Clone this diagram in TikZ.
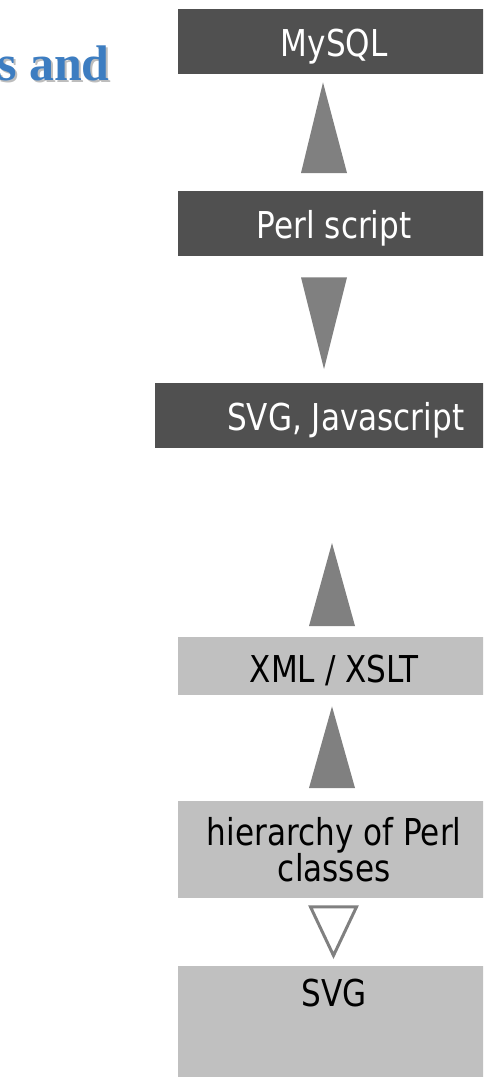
\documentclass[tikz,border=0pt]{standalone}
\usepackage{fontspec}
\setmainfont[FakeStretch=0.84]{DejaVu Sans}
\newfontfamily\headfont{Liberation Serif}
\usetikzlibrary{calc}
\definecolor{Slate}{HTML}{505050}
\definecolor{Silver}{HTML}{C0C0C0}
\definecolor{Ash}{HTML}{808080}
\definecolor{Ocean}{HTML}{3D7DC1}
\definecolor{Shade}{HTML}{BDBDBD}
\begin{document}
\begin{tikzpicture}[x=1pt,y=-1pt,
basebox/.style={anchor=north west,inner sep=0pt,minimum width=312pt,align=center,font=\fontsize{37}{35}\selectfont},
darkbox/.style={basebox,fill=Slate,text=white,text height=47pt,text depth=18pt},
lightbox/.style={basebox,fill=Silver,text=black},
wedge/.style={fill=Ash},
hollowwedge/.style={draw=Ash,line width=3pt,fill=white}]
\useasboundingbox (0,0) rectangle (483,1077);
\clip (0,0) rectangle (483,1077);
\node[anchor=base west,inner sep=0pt,text=Shade,font=\headfont\bfseries\fontsize{50}{60}\selectfont](headshadow) at (-1,82){s and};
\node[anchor=base west,inner sep=0pt,text=Ocean,font=\headfont\bfseries\fontsize{50}{60}\selectfont](head) at (-3,80){s and};
\node[darkbox](mysql) at (178,9){MySQL};
\node[darkbox](perl) at (178,191){Perl script};
\node[darkbox,minimum width=381pt](web) at (155,383){SVG, Javascript};
\node[lightbox,text height=45pt,text depth=13pt](xml) at (178,637){XML / XSLT};
\node[lightbox,minimum height=97pt](classes) at (178,801){hierarchy of Perl\\classes};
\node[lightbox,text height=40pt,text depth=80pt](svg) at (178,966){SVG};
\fill[wedge] ($(mysql.south west)+(145,8)$) -- ($(perl.north west)+(169,-18)$) -- ($(perl.north west)+(123,-18)$) -- cycle;
\fill[wedge] ($(perl.south west)+(123,21)$) -- ($(perl.south west)+(169,21)$) -- ($(web.north west)+(169,-14)$) -- cycle;
\fill[wedge] ($(xml.north west)+(154,-94)$) -- ($(xml.north west)+(177,-11)$) -- ($(xml.north west)+(131,-11)$) -- cycle;
\fill[wedge] ($(xml.south west)+(154,11)$) -- ($(classes.north west)+(177,-13)$) -- ($(classes.north west)+(131,-13)$) -- cycle;
\draw[hollowwedge] ($(classes.south west)+(132.5,8.5)$) -- ($(classes.south west)+(178.5,8.5)$) -- ($(svg.north west)+(155.5,-10.5)$) -- cycle;
\end{tikzpicture}
\end{document}
